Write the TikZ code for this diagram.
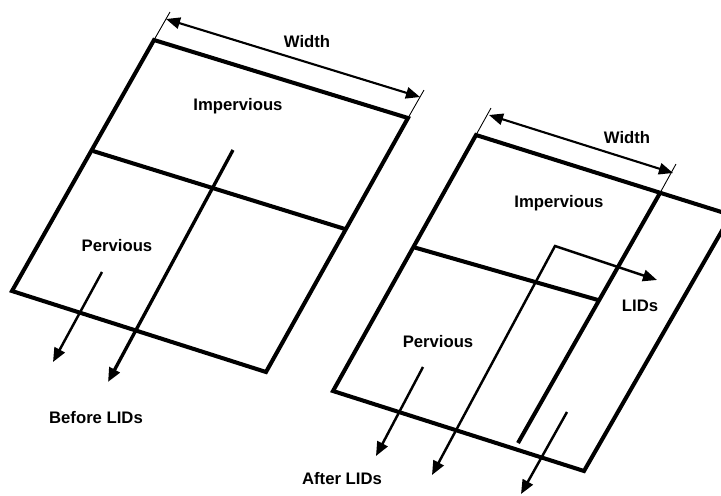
\documentclass[tikz,border=0pt]{standalone}
\usepackage{fontspec}
\setmainfont{Liberation Sans}
\usetikzlibrary{arrows.meta}
\tikzset{
	tip/.tip={Triangle[length=8pt,width=6.5pt]},
	edge/.style={line width=2.3pt},
	flow/.style={line width=1.4pt, -tip},
	bigflow/.style={line width=1.9pt, -tip},
	dimline/.style={line width=1.2pt, tip-tip},
	extline/.style={line width=0.5pt},
	lbl/.style={font=\fontsize{9.5}{11}\selectfont\bfseries, inner sep=0pt},
}

\begin{document}
\begin{tikzpicture}[x=0.02cm, y=-0.02cm]
		%%%%% START %%%%%
		\useasboundingbox (0,0) rectangle (721,495);
		\clip (0,0) rectangle (721,495);
		
		% before LIDs
		\draw[edge] (154,40) -- (408,118) -- (266,372) -- (12,291) -- cycle;
		\draw[edge] (93,151) -- (345,229);
		
		\draw[extline] (154,40) -- (170,12);
		\draw[extline] (408,118) -- (424,90);
		\draw[dimline] (166,19) -- (420,97);
		\node[lbl] (widthA) at (307,42) {Width};
		
		\node[lbl] (impA) at (238,106) {Impervious};
		\draw[bigflow] (233,150) -- (108,382);
		
		\node[lbl] (perA) at (117,246) {Pervious};
		\draw[flow] (102,272) -- (53,362);
		
		\node[lbl] (before) at (96,418) {Before LIDs};
		
		% after LIDs
		\draw[edge] (476,135) -- (731,215) -- (584,471) -- (333,391) -- cycle;
		\draw[edge] (660,193) -- (518,443);
		\draw[edge] (413,247) -- (598,300);
		
		\draw[extline] (476,135) -- (491,108);
		\draw[extline] (660,193) -- (676,164);
		\draw[dimline] (489,115) -- (673,173);
		\node[lbl] (widthB) at (627,138) {Width};
		
		\node[lbl] (impB) at (559,203) {Impervious};
		\draw[flow, tip-tip] (432,475) -- (555,246) -- (657,280);
		\node[lbl] (lids) at (640,306) {LIDs};
		
		\node[lbl] (perB) at (438,342) {Pervious};
		\draw[flow] (423,367) -- (376,456);
		\draw[flow] (567,412) -- (521,494);
		
		\node[lbl] (after) at (342,479) {After LIDs};
		
		%%%%% END %%%%%
\end{tikzpicture}
\end{document}
